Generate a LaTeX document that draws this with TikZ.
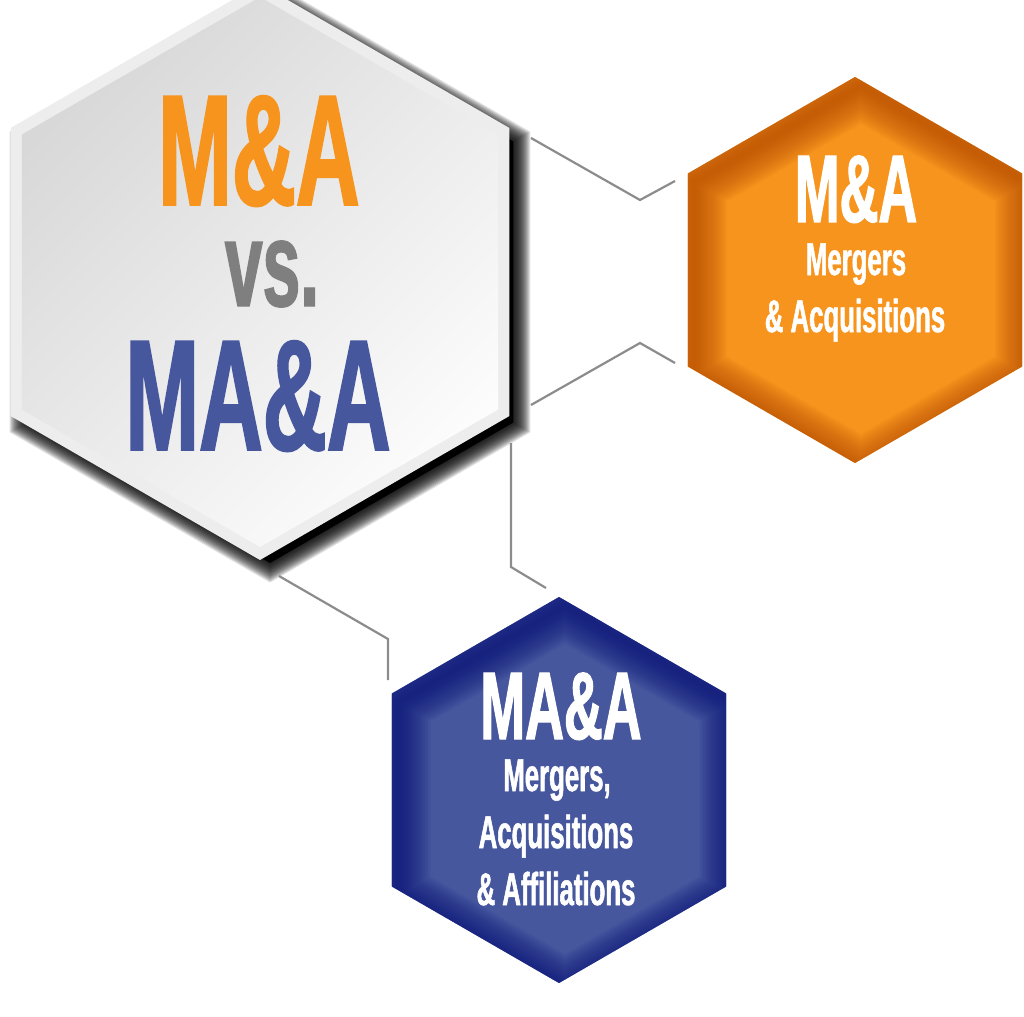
\documentclass[tikz,border=0pt]{standalone}
\usepackage{fontspec}
\usetikzlibrary{shapes.geometric}
\newfontfamily\hexfont{Liberation Sans}[FakeStretch=0.56,BoldFeatures={FakeBold=1.2}]
\definecolor{mergMain}{HTML}{F7941D}
\definecolor{mergDark}{HTML}{B84E06}
\definecolor{affilMain}{HTML}{47579E}
\definecolor{affilDark}{HTML}{0A1478}
\definecolor{vsGrey}{HTML}{7F7F7F}
\definecolor{linkGrey}{HTML}{8C8C8C}
\definecolor{rimGrey}{HTML}{EDEDED}
\definecolor{faceDark}{HTML}{D8D8D8}
\definecolor{faceLight}{HTML}{FCFCFC}
\pgfdeclarelayer{shade}
\pgfsetlayers{shade,main}
% outline of a hexagon node, moved by #2
\newcommand\hexof[2]{([shift={#2}]#1.corner 1) -- ([shift={#2}]#1.corner 2) -- ([shift={#2}]#1.corner 3) -- ([shift={#2}]#1.corner 4) -- ([shift={#2}]#1.corner 5) -- ([shift={#2}]#1.corner 6) -- cycle}
% hexagon of radius #2 round the point #1
\newcommand\hexround[2]{#1 +(30:#2) -- +(90:#2) -- +(150:#2) -- +(210:#2) -- +(270:#2) -- +(330:#2) -- cycle}
\tikzset{
  hexa/.style={regular polygon,regular polygon sides=6,shape border rotate=30,inner sep=0pt,outer sep=0pt},
  link/.style={draw=linkGrey,line width=2.2pt},
  huge/.style={font=\hexfont\bfseries\fontsize{158}{158}\selectfont,anchor=base,inner sep=0pt,text height=116pt,text depth=0pt},
  head/.style={font=\hexfont\bfseries\fontsize{96}{96}\selectfont,anchor=base,inner sep=0pt,text=white,text height=70pt,text depth=0pt},
  sub/.style={font=\hexfont\bfseries\fontsize{46}{46}\selectfont,anchor=base,inner sep=0pt,text=white,text height=34pt,text depth=9pt},
}
\begin{document}
\begin{tikzpicture}[x=1pt,y=-1pt]
\useasboundingbox (0,0) rectangle (1024,1016);
% connectors
\coordinate (l1a) at (531,138); \coordinate (l1b) at (675,181);
\coordinate (l2a) at (531,405); \coordinate (l2b) at (675,363);
\coordinate (l3a) at (511,443); \coordinate (l3b) at (546,588);
\coordinate (l4a) at (279,576); \coordinate (l4b) at (388,680);
\draw[link] (l1a) -- ++(109,62) -- (l1b);
\draw[link] (l2a) -- ++(109,-62) -- (l2b);
\draw[link] (l3a) -- ++(0,124) -- (l3b);
\draw[link] (l4a) -- ++(109,63) -- (l4b);
% big hexagon with its drop shadow
\node(bigHex)[hexa,minimum size=576,fill=rimGrey] at (260,272){};
\begin{pgfonlayer}{shade}
\fill[black] \hexround{([shift={(10,10)}]bigHex.center)}{281};
\foreach \w in {2,4,...,34}
  \draw[black,line width=\w,opacity=0.11] \hexround{([shift={(10,10)}]bigHex.center)}{281};
\end{pgfonlayer}
\node(bigFace)[hexa,minimum size=550,top color=faceDark,bottom color=faceLight,shading angle=45] at (260,272){};
\node(bigTop)[huge,text=mergMain] at (259,205){M\&A};
\node(bigVs)[huge,text=vsGrey,font=\hexfont\bfseries\fontsize{121}{121}\selectfont,text height=64pt] at (272,306){vs.};
\node(bigBottom)[huge,text=affilMain] at (258,450){MA\&A};
% orange hexagon
\node(mergHex)[hexa,minimum size=386,fill=mergMain] at (855,270){};
\begin{scope}
\clip \hexof{mergHex}{(0,0)};
\foreach \w in {3,6,...,66}
  \draw[mergDark,line width=\w,opacity=0.055] \hexof{mergHex}{(6,9)};
\end{scope}
\node(mergTitle)[head] at (856,222){M\&A};
\node(mergLine1)[sub] at ([yshift=-53pt]mergTitle.base){Mergers};
\node(mergLine2)[sub] at ([yshift=-57pt,xshift=-1pt]mergLine1.base){\& Acquisitions};
% blue hexagon
\node(affilHex)[hexa,minimum size=386,fill=affilMain] at (559,790){};
\begin{scope}
\clip \hexof{affilHex}{(0,0)};
\foreach \w in {3,6,...,66}
  \draw[affilDark,line width=\w,opacity=0.055] \hexof{affilHex}{(6,9)};
\end{scope}
\node(affilTitle)[head] at (561,739){MA\&A};
\node(affilLine1)[sub] at ([yshift=-52pt,xshift=-4pt]affilTitle.base){Mergers,};
\node(affilLine2)[sub] at ([yshift=-57pt,xshift=-1pt]affilLine1.base){Acquisitions};
\node(affilLine3)[sub] at ([yshift=-57pt]affilLine2.base){\& Affiliations};
\end{tikzpicture}
\end{document}
